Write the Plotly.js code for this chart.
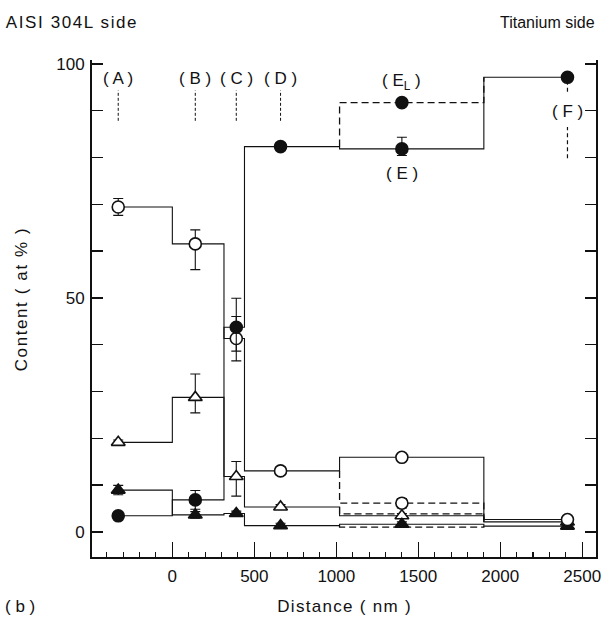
<!DOCTYPE html>
<html>
<head>
<meta charset="utf-8">
<script src="https://cdn.plot.ly/plotly-3.0.1.min.js"></script>
<style>
  html, body { margin: 0; padding: 0; background: #ffffff; }
  #chart { width: 607px; height: 622px; }
</style>
</head>
<body>
<div id="chart"></div>
<script>
// Layer labels and the depth (nm) of each analysis point
const layerNames = ['( A )', '( B )', '( C )', '( D )', '( E )', '( F )'];
const depthNm = [-330, 140, 390, 660, 1400, 2410];
// Interfaces between neighbouring layers (nm)
const interfaceNm = [0, 315, 440, 1020, 1900];

// Content (at %) per layer, solid profile
const openCircle   = [69.4, 61.5, 41.3, 13.0, 15.9, 2.6];
const filledCircle = [3.4, 6.8, 43.7, 82.3, 81.8, 97.1];
const openTri      = [19.1, 28.7, 11.8, 5.3, 3.4, 2.1];
const filledTri    = [8.9, 3.6, 3.9, 1.3, 1.6, 1.2];

// Error bars (upper / lower)
const openCircleErrUp   = [1.8, 3.0, 4.7, 0.8, 0.8, 0];
const openCircleErrDn   = [1.8, 5.5, 4.8, 0.8, 0.8, 0];
const filledCircleErrUp = [0.5, 2.0, 6.2, 0.8, 2.5, 0];
const filledCircleErrDn = [0.5, 2.0, 5.1, 0.8, 1.4, 0];
const openTriErrUp      = [0.5, 5.0, 3.2, 0.5, 0.5, 0];
const openTriErrDn      = [0.5, 3.3, 4.2, 0.5, 0.5, 0];
const filledTriErrUp    = [1.0, 0.7, 0.5, 0.5, 0.5, 0];
const filledTriErrDn    = [1.0, 0.7, 0.5, 0.5, 0.5, 0];

// Alternative layer E_L (dashed profile): open circle, filled circle, open tri, filled tri
const layerEL = [6.1, 91.7, 3.8, 1.0];
const layerELErr = [1.0, 0, 0, 0];

const xTickVals = [0, 500, 1000, 1500, 2000, 2500];
const yTickVals = [0, 50, 100];

const FONT = 'Liberation Sans, Arial, Helvetica, sans-serif';
const INK = '#111111';

// x positions of the step outline: first point, every interface, last point
const stepX = [depthNm[0]].concat(interfaceNm, [depthNm[depthNm.length - 1]]);

function stepTrace(vals) {
  return {
    x: stepX,
    y: vals.concat([vals[vals.length - 1]]),
    mode: 'lines',
    line: { shape: 'hv', color: INK, width: 1.1 },
    hoverinfo: 'skip', showlegend: false
  };
}

function dashedTrace(vals, el) {
  const iE = 4;
  return {
    x: [interfaceNm[3], interfaceNm[3], interfaceNm[4]],
    y: [vals[iE - 1], el, vals[iE + 1]],
    mode: 'lines',
    line: { shape: 'hv', color: INK, width: 1.3, dash: '7px,4px' },
    hoverinfo: 'skip', showlegend: false
  };
}

function markerTrace(vals, up, dn, symbol, filled) {
  return {
    x: depthNm, y: vals, mode: 'markers',
    marker: {
      symbol: symbol, size: 12,
      color: filled ? INK : '#ffffff',
      line: { color: INK, width: 1.6 }
    },
    error_y: { type: 'data', symmetric: false, array: up, arrayminus: dn,
               color: INK, thickness: 1.1, width: 5 },
    hoverinfo: 'skip', showlegend: false
  };
}

const traces = [
  stepTrace(openCircle), stepTrace(filledCircle), stepTrace(openTri), stepTrace(filledTri),
  dashedTrace(openCircle, layerEL[0]), dashedTrace(filledCircle, layerEL[1]),
  dashedTrace(openTri, layerEL[2]), dashedTrace(filledTri, layerEL[3]),
  // E_L circles
  {
    x: [depthNm[4]], y: [layerEL[0]], mode: 'markers',
    marker: { symbol: 'circle', size: 12, color: '#ffffff', line: { color: INK, width: 1.6 } },
    error_y: { type: 'data', array: [layerELErr[0]], color: INK, thickness: 1.1, width: 5 },
    hoverinfo: 'skip', showlegend: false
  },
  {
    x: [depthNm[4]], y: [layerEL[1]], mode: 'markers',
    marker: { symbol: 'circle', size: 12, color: INK, line: { color: INK, width: 1.6 } },
    hoverinfo: 'skip', showlegend: false
  },
  markerTrace(openTri, openTriErrUp, openTriErrDn, 'triangle-up', false),
  markerTrace(filledTri, filledTriErrUp, filledTriErrDn, 'triangle-up', true),
  markerTrace(openCircle, openCircleErrUp, openCircleErrDn, 'circle', false),
  markerTrace(filledCircle, filledCircleErrUp, filledCircleErrDn, 'circle', true)
];

const labelFont = { family: FONT, size: 17, color: INK };

// Layer labels with short dashed leaders beneath (A)-(D)
const annotations = [];
const shapes = [];
for (let i = 0; i < 4; i++) {
  annotations.push({ x: depthNm[i], y: 96.9, xref: 'x', yref: 'y', text: layerNames[i],
    showarrow: false, font: labelFont });
  shapes.push({ type: 'line', xref: 'x', yref: 'y', x0: depthNm[i], x1: depthNm[i],
    y0: 87.8, y1: 94.3, line: { color: INK, width: 1, dash: '3px,2px' } });
}
annotations.push({ x: depthNm[4], y: 96.0, xref: 'x', yref: 'y', text: '( E<sub>L</sub> )',
  showarrow: false, font: labelFont });
annotations.push({ x: depthNm[4], y: 76.6, xref: 'x', yref: 'y', text: layerNames[4],
  showarrow: false, font: labelFont });
annotations.push({ x: depthNm[5], y: 89.7, xref: 'x', yref: 'y', text: layerNames[5],
  showarrow: false, font: labelFont });
shapes.push({ type: 'line', xref: 'x', yref: 'y', x0: depthNm[5], x1: depthNm[5],
  y0: 94.0, y1: 96.0, line: { color: INK, width: 1.2, dash: '4px,3px' } });
shapes.push({ type: 'line', xref: 'x', yref: 'y', x0: depthNm[5], x1: depthNm[5],
  y0: 79.8, y1: 86.5, line: { color: INK, width: 1.2, dash: '4px,3px' } });

// Side captions, axis titles and panel tag (letter spacing applied after drawing,
// so spaced captions are centred on their anchor point)
const spaced = {};
function addCaption(opts, spacing) {
  if (spacing) spaced[annotations.length] = spacing;
  annotations.push(Object.assign({ xref: 'paper', yref: 'paper', showarrow: false,
    yanchor: 'middle', font: labelFont }, opts));
}
addCaption({ x: -0.0387, y: 1.0745, xanchor: 'center', text: 'AISI 304L side' }, '1.6px');
addCaption({ x: 1.002, y: 1.0745, xanchor: 'right', text: 'Titanium side',
  font: { family: FONT, size: 16, color: INK } });
addCaption({ x: 0.5, y: -0.1006, xanchor: 'center', text: 'Distance ( nm )' }, '1.3px');
addCaption({ x: -0.139, y: 0.52, xanchor: 'center', textangle: -90,
  text: 'Content ( at % )' }, '1.6px');
addCaption({ x: -0.143, y: -0.1006, xanchor: 'center', text: '( b )' });

const layout = {
  width: 607, height: 622,
  margin: { l: 92, r: 11, t: 60, b: 65, pad: 0 },
  paper_bgcolor: '#ffffff', plot_bgcolor: '#ffffff',
  showlegend: false,
  font: { family: FONT, size: 17, color: INK },
  xaxis: {
    range: [-490, 2584], showgrid: false, zeroline: false,
    showline: true, linecolor: INK, linewidth: 2, mirror: false,
    tickmode: 'array', tickvals: xTickVals,
    ticks: 'inside', ticklen: 15, tickwidth: 1.3, tickcolor: INK,
    minor: { dtick: 100, tick0: 0, ticks: 'inside', ticklen: 5, tickwidth: 1.1, tickcolor: INK, showgrid: false },
    tickfont: { family: FONT, size: 17, color: INK }, ticklabelstandoff: 3
  },
  yaxis: {
    range: [-5.4, 100.8], showgrid: false, zeroline: false,
    showline: true, linecolor: INK, linewidth: 2, mirror: 'ticks',
    tickmode: 'array', tickvals: yTickVals,
    ticks: 'inside', ticklen: 11, tickwidth: 2, tickcolor: INK,
    minor: { dtick: 10, tick0: 0, ticks: 'inside', ticklen: 11, tickwidth: 1.2, tickcolor: INK, showgrid: false },
    tickfont: { family: FONT, size: 17, color: INK }, ticklabelstandoff: 2
  },
  annotations: annotations,
  shapes: shapes
};

Plotly.newPlot('chart', traces, layout, { staticPlot: true, displayModeBar: false }).then(function (gd) {
  Object.keys(spaced).forEach(function (k) {
    const t = gd.querySelector('g.annotation[data-index="' + k + '"] text');
    if (t) t.style.letterSpacing = spaced[k];
  });
});
</script>
</body>
</html>
